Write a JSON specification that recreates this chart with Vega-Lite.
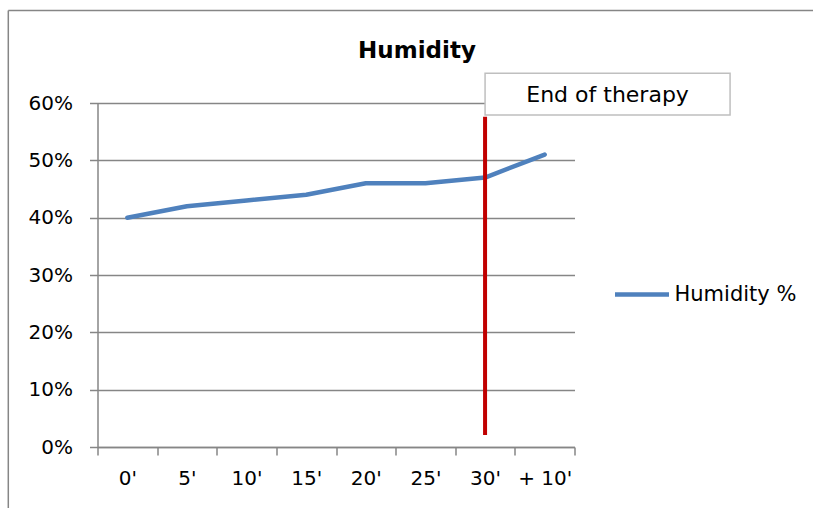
{
  "$schema": "https://vega.github.io/schema/vega-lite/v6.json",
  "width": 477,
  "height": 344,
  "autosize": {"type": "none"},
  "padding": {"left": 97.5, "top": 103, "right": 238.5, "bottom": 61},
  "background": "white",
  "config": {"font": "DejaVu Sans", "view": {"stroke": null}},
  "title": {"text": "Humidity", "font": "DejaVu Sans", "fontSize": 23, "fontWeight": "bold", "color": "black", "anchor": "middle", "frame": "group", "dx": 81, "offset": -71.5, "baseline": "alphabetic"},
  "datasets": {
    "main": [
      {"t": "0'", "v": 0.40, "series": "Humidity %"},
      {"t": "5'", "v": 0.42, "series": "Humidity %"},
      {"t": "10'", "v": 0.43, "series": "Humidity %"},
      {"t": "15'", "v": 0.44, "series": "Humidity %"},
      {"t": "20'", "v": 0.46, "series": "Humidity %"},
      {"t": "25'", "v": 0.46, "series": "Humidity %"},
      {"t": "30'", "v": 0.47, "series": "Humidity %"},
      {"t": "+ 10'", "v": 0.51, "series": "Humidity %"}
    ],
    "marker": [
      {"t": "30'", "lo": 0.021, "hi": 0.576, "boxLo": 0.579, "boxHi": 0.652, "textY": 0.6023, "label": "End of therapy"}
    ],
    "frame": [
      {"x": -0.187, "x2": 1.5, "y": 0.7613, "y2": 0.7613},
      {"x": -0.187, "x2": -0.187, "y": 0.7613, "y2": -0.107}
    ]
  },
  "resolve": {"scale": {"x": "independent"}},
  "layer": [
    {
      "layer": [
        {
          "data": {"name": "main"},
          "mark": {"type": "line", "strokeWidth": 4.5, "strokeCap": "round", "strokeJoin": "round"},
          "encoding": {
            "x": {
              "field": "t", "type": "ordinal",
              "sort": ["0'", "5'", "10'", "15'", "20'", "25'", "30'", "+ 10'"],
              "scale": {"type": "band", "paddingInner": 0, "paddingOuter": 0, "domain": ["0'", "5'", "10'", "15'", "20'", "25'", "30'", "+ 10'"]},
              "axis": {"title": null, "tickBand": "extent", "tickSize": 8, "tickColor": "#868686", "tickWidth": 1.5, "domainColor": "#868686", "domainWidth": 1.5, "labelFontSize": 20, "labelColor": "black", "labelPadding": 13, "labelAngle": 0, "grid": false}
            },
            "y": {
              "field": "v", "type": "quantitative",
              "scale": {"domain": [0, 0.6], "nice": false},
              "axis": {"title": null, "format": ".0%", "values": [0, 0.1, 0.2, 0.3, 0.4, 0.5, 0.6], "tickSize": 8, "tickColor": "#868686", "tickWidth": 1.5, "domainColor": "#868686", "domainWidth": 1.5, "grid": true, "gridColor": "#868686", "gridWidth": 1.5, "labelFontSize": 20, "labelColor": "black", "labelPadding": 17}
            },
            "color": {
              "field": "series", "type": "nominal",
              "scale": {"range": ["#4F81BD"]},
              "legend": {"title": null, "orient": "none", "legendX": 515, "legendY": 162, "symbolType": "stroke", "symbolSize": 2916, "symbolStrokeWidth": 4.5, "labelFontSize": 21, "labelColor": "black", "labelOffset": 3, "padding": 0}
            }
          }
        },
        {
          "data": {"name": "marker"},
          "mark": {"type": "rule", "color": "#C00000", "strokeWidth": 4},
          "encoding": {
            "x": {"field": "t", "type": "ordinal", "sort": ["0'", "5'", "10'", "15'", "20'", "25'", "30'", "+ 10'"]},
            "y": {"field": "lo", "type": "quantitative"},
            "y2": {"field": "hi"}
          }
        },
        {
          "data": {"name": "marker"},
          "mark": {"type": "bar", "width": 245, "xOffset": 122.5, "fill": "white", "stroke": "#BFBFBF", "strokeWidth": 1.5},
          "encoding": {
            "x": {"field": "t", "type": "ordinal", "sort": ["0'", "5'", "10'", "15'", "20'", "25'", "30'", "+ 10'"]},
            "y": {"field": "boxLo", "type": "quantitative"},
            "y2": {"field": "boxHi"}
          }
        },
        {
          "data": {"name": "marker"},
          "mark": {"type": "text", "xOffset": 122.5, "fontSize": 22, "color": "black", "baseline": "alphabetic", "align": "center"},
          "encoding": {
            "x": {"field": "t", "type": "ordinal", "sort": ["0'", "5'", "10'", "15'", "20'", "25'", "30'", "+ 10'"]},
            "y": {"field": "textY", "type": "quantitative"},
            "text": {"field": "label"}
          }
        }
      ]
    },
    {
      "data": {"name": "frame"},
      "mark": {"type": "rule", "color": "#868686", "strokeWidth": 1.5},
      "encoding": {
        "x": {"field": "x", "type": "quantitative", "scale": {"domain": [0, 1], "nice": false, "zero": false}, "axis": null},
        "x2": {"field": "x2"},
        "y": {"field": "y", "type": "quantitative"},
        "y2": {"field": "y2"}
      }
    }
  ]
}
